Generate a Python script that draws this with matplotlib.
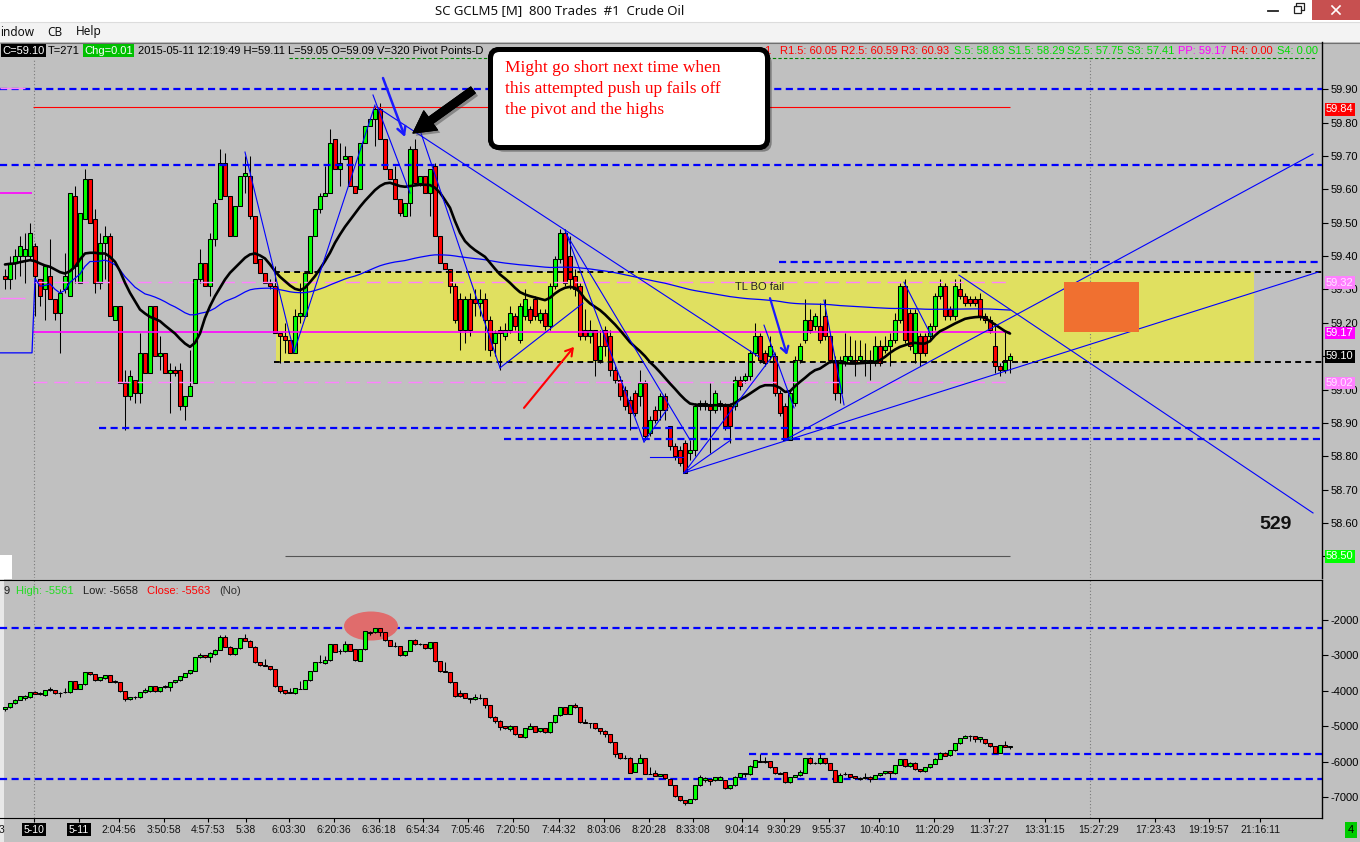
import matplotlib
matplotlib.use("Agg")
import matplotlib.pyplot as plt
import matplotlib.patheffects as pe
import numpy as np
from matplotlib.patches import Rectangle, FancyBboxPatch, Ellipse
from matplotlib.transforms import blended_transform_factory

plt.rcParams['font.family'] = ['Liberation Sans', 'DejaVu Sans']

# ------------------------------------------------------------------ dati
# prezzo (800 trades per barra)
open_ = [59.34, 59.33, 59.38, 59.40, 59.40, 59.40, 59.43, 59.33, 59.30, 59.34,
         59.27, 59.23, 59.30, 59.28, 59.58, 59.32, 59.51, 59.63, 59.51, 59.32,
         59.44, 59.46, 59.21, 59.25, 59.02, 58.98, 59.03, 58.99, 59.11, 59.05,
         59.25, 59.10, 59.11, 59.05, 59.06, 59.06, 58.95, 58.98, 59.02, 59.33,
         59.38, 59.31, 59.45, 59.57, 59.68, 59.58, 59.46, 59.55, 59.64, 59.64,
         59.52, 59.39, 59.35, 59.32, 59.31, 59.17, 59.16, 59.15, 59.11, 59.22,
         59.22, 59.35, 59.46, 59.54, 59.58, 59.59, 59.75, 59.66, 59.69, 59.70,
         59.61, 59.60, 59.74, 59.79, 59.81, 59.84, 59.75, 59.66, 59.63, 59.57,
         59.52, 59.56, 59.72, 59.62, 59.64, 59.59, 59.67, 59.46, 59.38, 59.36,
         59.31, 59.27, 59.18, 59.27, 59.27, 59.26, 59.27, 59.21, 59.14, 59.18,
         59.16, 59.18, 59.22, 59.15, 59.22, 59.24, 59.27, 59.21, 59.23, 59.19,
         59.31, 59.39, 59.47, 59.40, 59.34, 59.31, 59.18, 59.16, 59.18, 59.09,
         59.18, 59.16, 59.06, 59.03, 59.00, 58.97, 58.99, 58.98, 59.02, 58.87,
         58.94, 58.94, 58.98, 58.89, 58.83, 58.82, 58.84, 58.81, 58.82, 58.96,
         58.96, 58.95, 58.94, 58.96, 58.95, 58.95, 58.95, 59.03, 59.03, 59.04,
         59.11, 59.16, 59.11, 59.10, 59.10, 58.99, 58.95, 58.85, 58.96, 59.09,
         59.15, 59.21, 59.19, 59.19, 59.22, 59.16, 59.09, 58.99, 59.08, 59.09,
         59.09, 59.09, 59.08, 59.09, 59.08, 59.13, 59.12, 59.13, 59.15, 59.21,
         59.31, 59.23, 59.11, 59.16, 59.16, 59.16, 59.19, 59.28, 59.31, 59.24,
         59.22, 59.30, 59.28, 59.27, 59.27, 59.27, 59.22, 59.21, 59.13, 59.07,
         59.06, 59.09]
close = [59.33, 59.38, 59.40, 59.43, 59.42, 59.47, 59.34, 59.28, 59.37, 59.27,
         59.23, 59.29, 59.34, 59.59, 59.37, 59.53, 59.63, 59.50, 59.32, 59.44,
         59.46, 59.22, 59.25, 59.02, 58.98, 59.04, 58.99, 59.11, 59.05, 59.25,
         59.10, 59.11, 59.05, 59.06, 59.05, 58.95, 58.98, 59.01, 59.33, 59.38,
         59.31, 59.45, 59.56, 59.68, 59.58, 59.46, 59.55, 59.64, 59.65, 59.52,
         59.38, 59.35, 59.32, 59.31, 59.17, 59.16, 59.15, 59.11, 59.22, 59.23,
         59.35, 59.46, 59.54, 59.58, 59.59, 59.74, 59.66, 59.68, 59.70, 59.61,
         59.59, 59.74, 59.79, 59.81, 59.84, 59.75, 59.66, 59.63, 59.57, 59.53,
         59.56, 59.72, 59.62, 59.64, 59.59, 59.66, 59.46, 59.38, 59.36, 59.31,
         59.21, 59.18, 59.27, 59.18, 59.26, 59.27, 59.21, 59.12, 59.17, 59.17,
         59.18, 59.23, 59.19, 59.25, 59.27, 59.21, 59.22, 59.23, 59.19, 59.31,
         59.39, 59.47, 59.32, 59.33, 59.30, 59.16, 59.16, 59.18, 59.09, 59.13,
         59.13, 59.06, 59.03, 58.98, 58.95, 58.93, 58.93, 59.02, 58.86, 58.91,
         58.91, 58.98, 58.94, 58.83, 58.80, 58.78, 58.75, 58.82, 58.95, 58.95,
         58.95, 58.94, 58.99, 58.95, 58.89, 58.89, 59.03, 59.01, 59.04, 59.11,
         59.16, 59.09, 59.08, 59.13, 58.99, 58.93, 58.85, 58.99, 59.09, 59.13,
         59.21, 59.18, 59.22, 59.15, 59.16, 59.09, 58.99, 59.09, 59.10, 59.10,
         59.08, 59.10, 59.09, 59.08, 59.13, 59.08, 59.13, 59.15, 59.21, 59.31,
         59.15, 59.13, 59.23, 59.11, 59.11, 59.19, 59.28, 59.31, 59.22, 59.22,
         59.31, 59.28, 59.26, 59.26, 59.26, 59.22, 59.21, 59.18, 59.07, 59.06,
         59.09, 59.10]
high = [59.36, 59.40, 59.42, 59.46, 59.47, 59.50, 59.44, 59.33, 59.37, 59.45,
        59.27, 59.30, 59.41, 59.59, 59.61, 59.53, 59.66, 59.63, 59.54, 59.47,
        59.49, 59.47, 59.25, 59.25, 59.06, 59.06, 59.03, 59.17, 59.11, 59.25,
        59.25, 59.16, 59.11, 59.08, 59.07, 59.08, 58.98, 59.12, 59.33, 59.42,
        59.38, 59.47, 59.57, 59.72, 59.71, 59.58, 59.55, 59.64, 59.70, 59.70,
        59.52, 59.39, 59.35, 59.33, 59.37, 59.17, 59.20, 59.15, 59.24, 59.32,
        59.35, 59.46, 59.54, 59.59, 59.67, 59.78, 59.75, 59.74, 59.73, 59.70,
        59.61, 59.74, 59.79, 59.81, 59.85, 59.86, 59.75, 59.66, 59.67, 59.57,
        59.56, 59.73, 59.75, 59.64, 59.64, 59.66, 59.68, 59.46, 59.38, 59.36,
        59.32, 59.29, 59.28, 59.29, 59.30, 59.30, 59.29, 59.22, 59.18, 59.19,
        59.20, 59.25, 59.23, 59.26, 59.30, 59.25, 59.28, 59.24, 59.24, 59.32,
        59.40, 59.48, 59.48, 59.46, 59.36, 59.32, 59.24, 59.21, 59.18, 59.18,
        59.19, 59.18, 59.07, 59.04, 59.01, 58.98, 59.00, 59.06, 59.03, 58.92,
        58.95, 58.99, 58.99, 58.89, 58.84, 58.83, 58.85, 58.85, 58.96, 58.97,
        58.97, 59.02, 59.00, 58.97, 58.96, 58.96, 59.04, 59.04, 59.05, 59.12,
        59.20, 59.17, 59.12, 59.16, 59.11, 59.00, 58.96, 59.00, 59.10, 59.14,
        59.27, 59.24, 59.23, 59.26, 59.27, 59.17, 59.10, 59.10, 59.17, 59.16,
        59.15, 59.15, 59.14, 59.12, 59.16, 59.15, 59.16, 59.17, 59.23, 59.32,
        59.33, 59.24, 59.24, 59.17, 59.17, 59.20, 59.29, 59.33, 59.32, 59.25,
        59.33, 59.33, 59.29, 59.28, 59.28, 59.29, 59.23, 59.22, 59.20, 59.08,
        59.18, 59.11]
low = [59.30, 59.30, 59.33, 59.34, 59.32, 59.39, 59.22, 59.25, 59.21, 59.27,
       59.21, 59.11, 59.29, 59.28, 59.32, 59.32, 59.51, 59.50, 59.29, 59.30,
       59.33, 59.22, 59.21, 59.02, 58.88, 58.97, 58.96, 58.96, 59.05, 59.05,
       59.10, 59.06, 59.05, 58.93, 59.04, 58.94, 58.91, 58.98, 59.02, 59.32,
       59.31, 59.28, 59.43, 59.57, 59.58, 59.46, 59.46, 59.55, 59.59, 59.51,
       59.38, 59.35, 59.32, 59.30, 59.17, 59.08, 59.11, 59.11, 59.11, 59.20,
       59.22, 59.35, 59.46, 59.53, 59.59, 59.59, 59.66, 59.61, 59.69, 59.61,
       59.59, 59.60, 59.74, 59.79, 59.73, 59.75, 59.66, 59.63, 59.57, 59.52,
       59.52, 59.52, 59.62, 59.61, 59.59, 59.52, 59.46, 59.38, 59.36, 59.29,
       59.20, 59.12, 59.14, 59.16, 59.22, 59.22, 59.12, 59.10, 59.10, 59.06,
       59.15, 59.17, 59.18, 59.14, 59.21, 59.20, 59.21, 59.20, 59.18, 59.18,
       59.30, 59.38, 59.31, 59.30, 59.28, 59.15, 59.15, 59.14, 59.04, 59.08,
       59.10, 59.04, 59.02, 58.97, 58.94, 58.88, 58.92, 58.95, 58.85, 58.86,
       58.90, 58.91, 58.91, 58.82, 58.79, 58.77, 58.75, 58.79, 58.80, 58.94,
       58.94, 58.81, 58.93, 58.94, 58.88, 58.84, 58.94, 59.00, 59.02, 59.03,
       59.10, 59.08, 59.07, 59.09, 58.98, 58.92, 58.85, 58.85, 58.95, 59.08,
       59.14, 59.17, 59.18, 59.14, 59.15, 59.08, 58.97, 58.96, 59.07, 59.08,
       59.04, 59.08, 59.04, 59.03, 59.07, 59.07, 59.11, 59.07, 59.14, 59.20,
       59.14, 59.12, 59.08, 59.07, 59.10, 59.15, 59.18, 59.27, 59.21, 59.21,
       59.21, 59.27, 59.25, 59.25, 59.25, 59.21, 59.20, 59.17, 59.05, 59.04,
       59.05, 59.05]
# media mobile nera
ma_line = [59.375, 59.377, 59.378, 59.382, 59.385, 59.388, 59.385, 59.378, 59.372, 59.368,
           59.360, 59.352, 59.348, 59.355, 59.368, 59.390, 59.408, 59.410, 59.410, 59.408,
           59.408, 59.398, 59.383, 59.355, 59.320, 59.290, 59.265, 59.240, 59.228, 59.218,
           59.212, 59.205, 59.192, 59.180, 59.168, 59.152, 59.138, 59.128, 59.140, 59.168,
           59.215, 59.250, 59.280, 59.305, 59.330, 59.350, 59.365, 59.380, 59.395, 59.405,
           59.408, 59.402, 59.393, 59.375, 59.355, 59.338, 59.325, 59.312, 59.302, 59.298,
           59.305, 59.322, 59.340, 59.362, 59.385, 59.410, 59.440, 59.465, 59.488, 59.508,
           59.528, 59.548, 59.566, 59.582, 59.598, 59.610, 59.618, 59.620, 59.615, 59.610,
           59.608, 59.610, 59.612, 59.614, 59.614, 59.613, 59.605, 59.590, 59.568, 59.545,
           59.505, 59.470, 59.445, 59.430, 59.418, 59.408, 59.398, 59.380, 59.362, 59.345,
           59.333, 59.320, 59.305, 59.292, 59.285, 59.280, 59.276, 59.272, 59.268, 59.275,
           59.288, 59.298, 59.305, 59.308, 59.305, 59.292, 59.272, 59.258, 59.248, 59.238,
           59.225, 59.210, 59.195, 59.178, 59.160, 59.142, 59.128, 59.115, 59.100, 59.082,
           59.068, 59.052, 59.035, 59.018, 59.002, 58.985, 58.970, 58.958, 58.955, 58.954,
           58.953, 58.953, 58.953, 58.953, 58.953, 58.953, 58.960, 58.970, 58.978, 58.988,
           58.998, 59.008, 59.013, 59.013, 59.012, 59.005, 58.993, 58.995, 59.010, 59.023,
           59.035, 59.048, 59.058, 59.063, 59.073, 59.083, 59.082, 59.080, 59.079, 59.078,
           59.078, 59.079, 59.080, 59.082, 59.083, 59.088, 59.098, 59.110, 59.120, 59.128,
           59.133, 59.138, 59.140, 59.138, 59.138, 59.145, 59.162, 59.175, 59.182, 59.190,
           59.198, 59.205, 59.212, 59.215, 59.217, 59.218, 59.215, 59.205, 59.195, 59.185,
           59.175, 59.168]
prev_vwap = 59.11
session_start = 6

# pannello inferiore (delta cumulativo)
d_open = [-4523, -4467, -4354, -4260, -4203, -4184, -4034, -4053, -4109, -3977,
          -3977, -4053, -4043, -4043, -3733, -3940, -3817, -3478, -3535, -3704,
          -3629, -3563, -3723, -3761, -4015, -4241, -4184, -4184, -4043, -4015,
          -3874, -4015, -3902, -3883, -3761, -3704, -3601, -3507, -3431, -3055,
          -2989, -3055, -2970, -2847, -2471, -2753, -2970, -2800, -2518, -2584,
          -2753, -3196, -3281, -3299, -3394, -3874, -3977, -4043, -4053, -3949,
          -3940, -3704, -3441, -3196, -3205, -3139, -2687, -2876, -2885, -2678,
          -2829, -3149, -2829, -2377, -2348, -2235, -2348, -2574, -2744, -2744,
          -2998, -2876, -2574, -2687, -2687, -2800, -2631, -3168, -3441, -3478,
          -3761, -4062, -4071, -4203, -4241, -4203, -4203, -4410, -4749, -4844,
          -5004, -5070, -4994, -5230, -5314, -5070, -4994, -5145, -5060, -5173,
          -4891, -4693, -4467, -4646, -4401, -4467, -4891, -4909, -4909, -5060,
          -5126, -5230, -5456, -5766, -5889, -5889, -6284, -6039, -5908, -6341,
          -6322, -6397, -6350, -6492, -6661, -6981, -7094, -7160, -7066, -6670,
          -6520, -6501, -6529, -6520, -6520, -6755, -6670, -6426, -6350, -6360,
          -6143, -6002, -5983, -5992, -6162, -6313, -6303, -6586, -6435, -6388,
          -6313, -5898, -6030, -6049, -5908, -6049, -6237, -6567, -6360, -6360,
          -6407, -6482, -6473, -6426, -6492, -6388, -6331, -6275, -6331, -6096,
          -5936, -6134, -6030, -6209, -6275, -6162, -6068, -5917, -5748, -5823,
          -5682, -5484, -5333, -5286, -5277, -5352, -5361, -5484, -5559, -5748,
          -5540, -5590]
d_close = [-4467, -4354, -4250, -4147, -4156, -4043, -4090, -4100, -3977, -3958,
           -4071, -4062, -4024, -3733, -3940, -3817, -3478, -3535, -3704, -3610,
           -3563, -3742, -3761, -4015, -4241, -4175, -4175, -4043, -3977, -3874,
           -4015, -3902, -3864, -3751, -3704, -3582, -3507, -3412, -3055, -2989,
           -3055, -2942, -2838, -2471, -2753, -2970, -2800, -2518, -2584, -2753,
           -3196, -3281, -3299, -3394, -3874, -3996, -4071, -4062, -3930, -3940,
           -3704, -3441, -3186, -3186, -3130, -2687, -2894, -2866, -2678, -2866,
           -3139, -2829, -2320, -2330, -2235, -2348, -2574, -2734, -2734, -2998,
           -2876, -2574, -2687, -2678, -2800, -2631, -3168, -3450, -3459, -3761,
           -4156, -4156, -4203, -4222, -4184, -4194, -4410, -4749, -4844, -5013,
           -5060, -5004, -5230, -5296, -5060, -4994, -5164, -5051, -5173, -4891,
           -4693, -4467, -4655, -4410, -4467, -4891, -4900, -4919, -5060, -5126,
           -5230, -5456, -5785, -5908, -5898, -6313, -6039, -5908, -6350, -6350,
           -6397, -6360, -6473, -6661, -6981, -7094, -7160, -7066, -6670, -6435,
           -6454, -6548, -6435, -6426, -6755, -6661, -6426, -6331, -6331, -6115,
           -5964, -5983, -6002, -6162, -6331, -6350, -6586, -6435, -6379, -6303,
           -5898, -6049, -6049, -5908, -6049, -6237, -6567, -6379, -6341, -6426,
           -6473, -6463, -6426, -6492, -6379, -6331, -6275, -6331, -6096, -5936,
           -6134, -6030, -6218, -6275, -6152, -6068, -5917, -5748, -5842, -5682,
           -5484, -5333, -5277, -5277, -5352, -5314, -5484, -5569, -5748, -5540,
           -5587, -5563]
d_high = [-4448, -4345, -4241, -4137, -4119, -4034, -3996, -4034, -3968, -3883,
          -3968, -4043, -3930, -3723, -3723, -3808, -3469, -3469, -3526, -3601,
          -3554, -3554, -3704, -3751, -4006, -4166, -4137, -4034, -3911, -3864,
          -3864, -3893, -3827, -3742, -3695, -3572, -3497, -3403, -3045, -2923,
          -2979, -2913, -2829, -2424, -2424, -2744, -2791, -2508, -2405, -2574,
          -2744, -3186, -3102, -3290, -3384, -3864, -3968, -3930, -3921, -3714,
          -3695, -3431, -3177, -2989, -3017, -2678, -2678, -2819, -2603, -2668,
          -2819, -2819, -2311, -2320, -2226, -2226, -2339, -2565, -2621, -2734,
          -2866, -2565, -2527, -2640, -2678, -2621, -2621, -3158, -3186, -3469,
          -3751, -3987, -4062, -4194, -4090, -4100, -4194, -4401, -4712, -4834,
          -4994, -4966, -4985, -5220, -5051, -4900, -4985, -5041, -5051, -4881,
          -4683, -4458, -4448, -4401, -4354, -4458, -4806, -4900, -4900, -5051,
          -5117, -5220, -5446, -5757, -5813, -5879, -6030, -5785, -5898, -6162,
          -6237, -6350, -6341, -6482, -6651, -6972, -7085, -7057, -6661, -6379,
          -6444, -6492, -6426, -6416, -6510, -6651, -6416, -6322, -6322, -6105,
          -5955, -5795, -5879, -5983, -6152, -6303, -6294, -6426, -6369, -6228,
          -5889, -5861, -6021, -5795, -5898, -6039, -6228, -6331, -6303, -6350,
          -6397, -6426, -6331, -6416, -6369, -6322, -6265, -6265, -6086, -5926,
          -5926, -6021, -6021, -6199, -6143, -6058, -5908, -5738, -5738, -5672,
          -5474, -5324, -5239, -5258, -5267, -5305, -5352, -5474, -5550, -5531,
          -5409, -5561]
d_low = [-4561, -4476, -4363, -4269, -4260, -4194, -4100, -4109, -4137, -3996,
         -4081, -4184, -4053, -4053, -3949, -3949, -3827, -3544, -3714, -3714,
         -3657, -3751, -3780, -4024, -4297, -4250, -4232, -4194, -4053, -4024,
         -4024, -4024, -3911, -4006, -3770, -3714, -3610, -3516, -3441, -3064,
         -3064, -3177, -2979, -2857, -2763, -2979, -2979, -2810, -2593, -2763,
         -3205, -3290, -3309, -3403, -3883, -4071, -4081, -4071, -4100, -3958,
         -3949, -3714, -3450, -3205, -3243, -3149, -2904, -2960, -2894, -2876,
         -3149, -3158, -2838, -2414, -2358, -2452, -2584, -2744, -2753, -3007,
         -3007, -2885, -2697, -2716, -2810, -2810, -3177, -3459, -3478, -3770,
         -4166, -4166, -4213, -4354, -4250, -4241, -4495, -4759, -4900, -5107,
         -5070, -5126, -5239, -5314, -5324, -5079, -5173, -5154, -5183, -5183,
         -4900, -4702, -4665, -4655, -4476, -4900, -4909, -5041, -5070, -5230,
         -5314, -5465, -5861, -5917, -5917, -6331, -6294, -6049, -6360, -6360,
         -6407, -6407, -6482, -6670, -6991, -7103, -7235, -7170, -7075, -6680,
         -6567, -6661, -6539, -6529, -6764, -6764, -6680, -6435, -6426, -6369,
         -6152, -6021, -6030, -6171, -6341, -6360, -6595, -6595, -6444, -6397,
         -6322, -6058, -6058, -6058, -6058, -6247, -6576, -6576, -6388, -6435,
         -6482, -6520, -6482, -6567, -6501, -6397, -6341, -6473, -6341, -6105,
         -6143, -6143, -6228, -6284, -6284, -6171, -6077, -5926, -5851, -5832,
         -5691, -5493, -5343, -5409, -5437, -5446, -5493, -5578, -5757, -5757,
         -5597, -5658]

for arr in (open_, close, high, low, ma_line, d_open, d_close, d_high, d_low):
    assert len(arr) == 202, len(arr)

# livelli orizzontali
blue_levels = [59.90, 59.673, 59.383, 58.885, 58.852]
zone_top, zone_bot = 59.352, 59.083
pivot_pp = 59.172
pivot_pink = [59.323, 59.023]
day_high = 59.847
day_low_line = 58.50
prev_pp = 59.589
prev_pink = [59.904, 59.274]
d_levels = [-2216, -6490, -5785]
target_box = (59.172, 59.322)

price_ticks = [58.50, 58.60, 58.70, 58.80, 58.90, 59.00, 59.10, 59.20,
               59.30, 59.40, 59.50, 59.60, 59.70, 59.80, 59.90]
delta_ticks = [-2000, -3000, -4000, -5000, -6000, -7000]
axis_tags = [(59.84, '#ff0000', 'white'), (59.32, '#ff80ff', '#ffe6ff'),
             (59.17, '#ff00ff', 'white'), (59.10, 'black', 'white'),
             (59.02, '#ff80ff', '#ffe6ff'), (58.50, '#00ff00', 'white')]

time_labels = ['3', '5-10', '5-11', '2:04:56', '3:50:58', '4:57:53', '5:38', '6:03:30',
               '6:20:36', '6:36:18', '6:54:34', '7:05:46', '7:20:50', '7:44:32',
               '8:03:06', '8:20:28', '8:33:08', '9:04:14', '9:30:29', '9:55:37',
               '10:40:10', '11:20:29', '11:37:27', '13:31:15', '15:27:29',
               '17:23:43', '19:19:57', '21:16:11']
time_pos = [-0.6, 5.8, 14.8, 22.8, 31.8, 40.6, 48.2, 56.8, 65.8, 74.8, 83.6, 92.6,
            101.6, 110.8, 119.8, 128.8, 137.6, 147.4, 155.8, 164.8, 174.8, 185.8,
            196.8, 208.0, 218.8, 230.0, 240.8, 251.0]

# linee di tendenza disegnate a mano (barra, prezzo)
trendlines = [((48.0, 59.712), (57.8, 59.113)), ((57.8, 59.113), (74.0, 59.853)),
              ((73.6, 59.883), (81.0, 59.589)), ((74.4, 59.847), (150.8, 59.098)),
              ((83.0, 59.778), (99.0, 59.065)), ((99.0, 59.065), (115.6, 59.259)),
              ((112.0, 59.478), (127.8, 58.843)), ((112.4, 59.463), (137.0, 58.849)),
              ((127.8, 58.843), (132.6, 58.945)), ((135.8, 58.750), (145.2, 58.849)),
              ((135.8, 58.750), (154.0, 59.110)), ((135.8, 58.750), (262.6, 59.352)),
              ((156.0, 58.849), (261.6, 59.706)), ((190.8, 59.343), (261.6, 58.630)),
              ((151.8, 59.193), (157.8, 58.945)), ((163.8, 59.268), (167.8, 58.954)),
              ((179.8, 59.322), (185.2, 59.163)), ((129.0, 58.798), (135.6, 58.798))]

# ------------------------------------------------------------------ figura
W, H = 1360, 842
AX_R = 1322
GRAY = '#c0c0c0'
fig = plt.figure(figsize=(W / 100, H / 100), dpi=100)


def px_rect(top, bot):
    return [0, 1 - bot / H, AX_R / W, (bot - top) / H]


bg = fig.add_axes([0, 0, 1, 1], label='bg', zorder=0)
bg.set_xlim(0, W); bg.set_ylim(H, 0); bg.axis('off')
over = fig.add_axes([0, 0, 1, 1], label='over', zorder=10)
over.set_xlim(0, W); over.set_ylim(H, 0); over.axis('off')
over.patch.set_alpha(0)

ax = fig.add_axes(px_rect(42, 578), zorder=2)
axl = fig.add_axes(px_rect(580, 818), zorder=2)
axt = fig.add_axes(px_rect(818, 842), zorder=2)
XL = (-1, (AX_R - 5) / 5)

# cornice della finestra
bg.add_patch(Rectangle((0, 0), W, 22, fc='white', ec='none'))
bg.add_patch(Rectangle((0, 22), W, 20, fc='#f3f3f3', ec='none'))
bg.hlines(22, 0, W, color='#dcdcdc', lw=0.8)
bg.add_patch(Rectangle((0, 42), W, H - 42, fc=GRAY, ec='none'))
bg.hlines(42.5, 0, W, color='#707070', lw=0.8)
bg.add_patch(Rectangle((0, 555), 12, 24, fc='white', ec='none'))
bg.add_patch(Rectangle((0, 579), 4, H - 579, fc='#e8e8e8', ec='none'))
bg.text(560, 11, 'SC GCLM5 [M]  800 Trades  #1  Crude Oil', ha='center', va='center',
        fontsize=9.5, family=['Noto Sans', 'DejaVu Sans'], color='#111111')
for xm, word in [(0, 'indow'), (47, 'CB'), (76, 'Help')]:
    bg.text(xm, 32, word, ha='left', va='center', fontsize=8.5,
            family=['Noto Sans', 'DejaVu Sans'], color='#111111')
bg.plot([1268, 1278], [10.5, 10.5], color='#222222', lw=1.3)
bg.add_patch(Rectangle((1293.5, 5.5), 7, 7, fill=False, ec='#222222', lw=0.9))
bg.plot([1296, 1296, 1303.5, 1303.5, 1300.5], [5.5, 3, 3, 10, 10], color='#222222', lw=0.9)
bg.add_patch(Rectangle((1312, 0), 48, 20, fc='#c75050', ec='none'))
bg.plot([1332, 1340], [6, 14], color='white', lw=1.2)
bg.plot([1332, 1340], [14, 6], color='white', lw=1.2)

# riga di intestazione
hdr_y = 50.5
head = [(2, 'C=59.10', 'white', 'black'), (48, 'T=271', 'black', None),
        (84, 'Chg=0.01', 'white', '#00c000'),
        (138, '2015-05-11 12:19:49 H=59.11 L=59.05 O=59.09 V=320 Pivot Points-D', 'black', None),
        (764, '1', '#ff0000', None), (780, 'R1.5: 60.05', '#ff0000', None),
        (841, 'R2.5: 60.59', '#ff0000', None), (901, 'R3: 60.93', '#ff0000', None),
        (954, 'S.5: 58.83', '#00dd00', None), (1008, 'S1.5: 58.29', '#00dd00', None),
        (1067, 'S2.5: 57.75', '#00dd00', None), (1127, 'S3: 57.41', '#00dd00', None),
        (1178, 'PP: 59.17', '#ff00ff', None), (1231, 'R4: 0.00', '#ff0000', None),
        (1277, 'S4: 0.00', '#00dd00', None)]
for xh, txt, col, box in head:
    kw = {}
    if box:
        kw['bbox'] = dict(boxstyle='square,pad=0.12', fc=box, ec='none')
    over.text(xh, hdr_y, txt, ha='left', va='center', fontsize=8, color=col, zorder=1, **kw)
over.hlines(57.5, 289, 1316, colors='#008000', linestyles=[(0, (3, 2))], lw=0.8, zorder=1)

low_head = [(3, '9', '#202020'), (16, 'High: -5561', '#22dd22'), (83, 'Low: -5658', '#202020'),
            (147, 'Close: -5563', '#ff0000'), (219, '(No)', '#303030')]
for xh, txt, col in low_head:
    over.text(xh, 590.5, txt, ha='left', va='center', fontsize=8, color=col, zorder=1)


# ------------------------------------------------------------------ candele
def draw_candles(a, o, h, l, c):
    o, h, l, c = map(np.asarray, (o, h, l, c))
    x = np.arange(len(o))
    a.vlines(x, l, h, color='black', lw=0.75, zorder=3)
    colors = np.where(c >= o, '#00ff00', '#ff0000')
    a.bar(x, np.abs(c - o), bottom=np.minimum(o, c), width=0.62, color=colors,
          edgecolor='black', linewidth=0.75, zorder=3.1)


for a in (ax, axl, axt):
    a.set_facecolor('none')
    a.set_xlim(*XL)
    a.set_xticks([])
    for s in ('top', 'left', 'bottom'):
        a.spines[s].set_visible(False)
    a.spines['right'].set_color('black')
    a.spines['right'].set_linewidth(1)

# ---- pannello prezzi
ax.set_ylim(58.435, 60.042)
ax.yaxis.tick_right()
ax.set_yticks(price_ticks)
# le etichette coperte dai riquadri colorati (58.50, 59.10) restano vuote
tagged = {round(v, 2) for v, _, _ in axis_tags if v in (58.50, 59.10)}
ax.set_yticklabels(['' if round(v, 2) in tagged else '%.2f' % v for v in price_ticks])
ax.tick_params(axis='y', direction='out', length=4, width=0.8, pad=2, labelsize=8)

ax.add_patch(Rectangle((54.2, zone_bot), 249.8 - 54.2, zone_top - zone_bot,
                       fc='#e0e060', ec='none', zorder=1))
ax.vlines([5.8, 217.0], 58.435, 59.99, colors='#7a7a7a', linestyles=[(0, (1, 2))], lw=0.8, zorder=1.5)
starts = [-1, -1, 154.8, 18.8, 99.8]
for lev, x0 in zip(blue_levels, starts):
    ax.hlines(lev, x0, XL[1], colors='#0000ff', lw=1.6, linestyles=[(0, (3.2, 2))], zorder=4)
for lev in (zone_top, zone_bot):
    ax.hlines(lev, 53.8, XL[1], colors='black', lw=1.4, linestyles=[(0, (3, 2.2))], zorder=4)
ax.hlines(pivot_pp, 5.6, 201, colors='#ff00ff', lw=1.2, zorder=4)
for lev in pivot_pink:
    ax.hlines(lev, 5.6, 201, colors='#ff80ff', lw=1.0, linestyles=[(0, (10, 5))], zorder=4)
ax.hlines(prev_pp, -1, 5.4, colors='#ff00ff', lw=1.2, zorder=4)
for lev in prev_pink:
    ax.hlines(lev, -1, 4.0, colors='#ff80ff', lw=1.0, zorder=4)
ax.hlines(day_high, 5.6, 201, colors='#ff0000', lw=0.8, zorder=4)
ax.hlines(day_low_line, 56, 201, colors='#555555', lw=0.8, zorder=4)

draw_candles(ax, open_, high, low, close)

# VWAP della sessione (media cumulativa del prezzo tipico)
tp = (np.array(high) + np.array(low) + np.array(close)) / 3
vw = np.cumsum(tp[session_start:]) / np.arange(1, len(tp) - session_start + 1)
vx = np.concatenate([[-1, 5.4], np.arange(session_start, len(tp))])
vy = np.concatenate([[prev_vwap, prev_vwap], vw])
ax.plot(vx, vy, color='#0000ff', lw=0.9, zorder=5)
ax.plot(np.arange(len(ma_line)), ma_line, color='black', lw=1.9, zorder=5.5,
        solid_capstyle='round')

for (x0, y0), (x1, y1) in trendlines:
    ax.plot([x0, x1], [y0, y1], color='#0000ff', lw=0.8, zorder=6)

ax.add_patch(Rectangle((211.8, target_box[0]), 15, target_box[1] - target_box[0],
                       fc='#f07030', ec='none', zorder=7))

ax.annotate('', xy=(80.0, 59.757), xytext=(75.6, 59.934), annotation_clip=False,
            arrowprops=dict(arrowstyle='->,head_length=0.55,head_width=0.3', color='#1a1aff',
                            lw=1.8, shrinkA=0, shrinkB=0), zorder=8)
blk = ax.annotate('', xy=(81.6, 59.769), xytext=(93.6, 59.898), annotation_clip=False,
                  arrowprops=dict(arrowstyle='simple,head_length=1.2,head_width=1.3,tail_width=0.42',
                                  fc='black', ec='black', lw=0.8, mutation_scale=13,
                                  shrinkA=0, shrinkB=0), zorder=8)
blk.arrow_patch.set_path_effects([pe.withSimplePatchShadow(offset=(2, -2), shadow_rgbFace='#404040', alpha=0.45),
                                  pe.Normal()])
ax.annotate('', xy=(113.8, 59.128), xytext=(103.8, 58.945),
            arrowprops=dict(arrowstyle='->,head_length=0.5,head_width=0.3', color='#ff0000',
                            lw=1.5, shrinkA=0, shrinkB=0), zorder=8)
ax.annotate('', xy=(156.4, 59.104), xytext=(153.0, 59.274),
            arrowprops=dict(arrowstyle='->,head_length=0.45,head_width=0.28', color='#1a1aff',
                            lw=1.6, shrinkA=0, shrinkB=0), zorder=8)
ax.text(146.0, 59.308, 'TL BO fail', fontsize=8, color='#222222', va='center', ha='left', zorder=8)
ax.text(254.2, 58.594, '529', fontsize=14, fontweight='bold', color='#111111',
        ha='center', va='center', zorder=8)

trans = blended_transform_factory(ax.transAxes, ax.transData)
for val, fc, tc in axis_tags:
    ax.text(1 + 4 / AX_R, val, '%.2f' % val, transform=trans, ha='left', va='center',
            fontsize=8, color=tc, clip_on=False, zorder=20,
            bbox=dict(boxstyle='square,pad=0.12', fc=fc, ec='none'))

# ---- pannello delta
axl.set_ylim(-7593, -870)
axl.spines['top'].set_visible(True)
axl.spines['top'].set_color('black')
axl.spines['bottom'].set_visible(True)
axl.spines['bottom'].set_color('black')
axl.yaxis.tick_right()
axl.set_yticks(delta_ticks)
axl.set_yticklabels([str(v) for v in delta_ticks])
axl.tick_params(axis='y', direction='out', length=4, width=0.8, pad=2, labelsize=8)
axl.vlines([5.8, 217.0], -7593, -870, colors='#7a7a7a', linestyles=[(0, (1, 2))], lw=0.8, zorder=1.5)
for lev, x0 in zip(d_levels, [-1, -1, 148.8]):
    axl.hlines(lev, x0, XL[1], colors='#0000ff', lw=1.6, linestyles=[(0, (3.2, 2))], zorder=2)
axl.add_patch(Ellipse((73.2, -2170), 10.8, 820, fc='#e06c6c', ec='none', zorder=2.5))
draw_candles(axl, d_open, d_high, d_low, d_close)

# ---- asse dei tempi
axt.set_ylim(842, 818)
axt.set_yticks([])
axt.spines['right'].set_visible(False)
axt.vlines(time_pos[1:], 818, 821.5, color='black', lw=0.8)
for pos, lab in zip(time_pos, time_labels):
    kw = {}
    if lab in ('5-10', '5-11'):
        kw['bbox'] = dict(boxstyle='square,pad=0.15', fc='black', ec='none')
        col = 'white'
    else:
        col = '#111111'
    axt.text(pos, 829.5, lab, ha='center', va='center', fontsize=7.5, color=col,
             clip_on=False, **kw)
over.text(1351, 830, '4', ha='center', va='center', fontsize=8, color='black',
          bbox=dict(boxstyle='square,pad=0.25', fc='#00cc00', ec='none'))

# ---- riquadro di commento
note = FancyBboxPatch((490.5, 49.5), 277, 98, boxstyle='round,pad=0,rounding_size=9',
                      fc='white', ec='black', lw=3.6, zorder=5)
note.set_path_effects([pe.withSimplePatchShadow(offset=(3, -3), shadow_rgbFace='black', alpha=0.35),
                       pe.Normal()])
over.add_patch(note)
for yy, line in [(68, 'Might go short next time when'),
                 (89, 'this attempted push up fails off'),
                 (109.5, 'the pivot and the highs')]:
    over.text(505, yy, line, color='#ff0000', fontsize=12.5,
              family=['Liberation Serif', 'DejaVu Serif'], ha='left', va='center', zorder=6)

fig.savefig('out.png', dpi=100)
